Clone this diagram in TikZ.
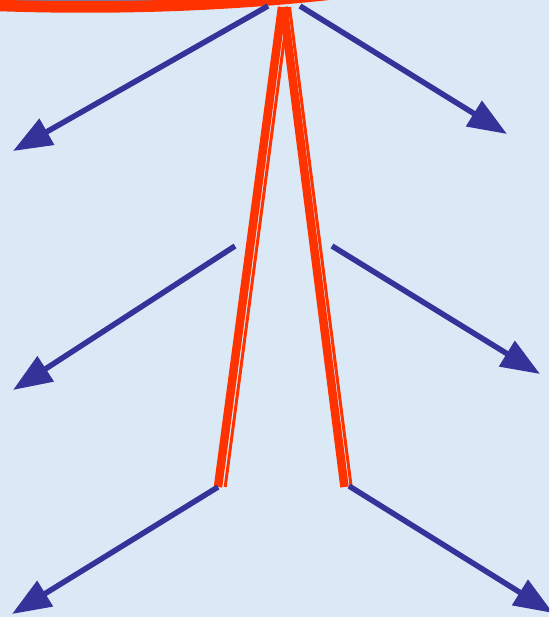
\documentclass[tikz,border=0pt]{standalone}
\usetikzlibrary{arrows.meta}
\definecolor{bg}{RGB}{219,233,247}
\definecolor{redline}{RGB}{255,51,0}
\definecolor{bluearrow}{RGB}{51,51,153}
\definecolor{ellfill}{RGB}{128,118,150}
\begin{document}
\begin{tikzpicture}[x=1pt,y=-1pt,
  arrowline/.style={draw=bluearrow, line width=5.5pt, -{Triangle[length=39pt,width=29pt]}},
  thickred/.style={draw=redline, line width=8.5pt},
  thinred/.style={draw=redline, line width=3pt}]
\useasboundingbox (0,0) rectangle (549,617);
\clip (0,0) rectangle (549,617);
\fill[bg] (0,0) rectangle (549,617);
% top ellipse edge
\draw[redline, line width=11.5pt, fill=ellfill] (85,-193) ellipse [x radius=693, y radius=200];
% red double lines
\coordinate (LT) at (282,7);   \coordinate (LB) at (218,487);
\coordinate (LTt) at (288.5,7); \coordinate (LBt) at (225.2,487);
\coordinate (RT) at (283.5,7); \coordinate (RB) at (344.5,487);
\coordinate (RTt) at (289.5,7); \coordinate (RBt) at (351.2,487);
\draw[thickred] (LT) -- (LB);
\draw[thinred] (LTt) -- (LBt);
\draw[thickred] (RT) -- (RB);
\draw[thinred] (RTt) -- (RBt);
% blue arrows
\coordinate (a1s) at (268,6);   \coordinate (a1e) at (13,151);
\coordinate (a2s) at (300,6);   \coordinate (a2e) at (507,134);
\coordinate (a3s) at (235,246); \coordinate (a3e) at (13,390);
\coordinate (a4s) at (332,246); \coordinate (a4e) at (540,374);
\coordinate (a5s) at (218,487); \coordinate (a5e) at (12,614);
\coordinate (a6s) at (349,486); \coordinate (a6e) at (553,613);
\draw[arrowline] (a1s) -- (a1e);
\draw[arrowline] (a2s) -- (a2e);
\draw[arrowline] (a3s) -- (a3e);
\draw[arrowline] (a4s) -- (a4e);
\draw[arrowline] (a5s) -- (a5e);
\draw[arrowline] (a6s) -- (a6e);
\end{tikzpicture}
\end{document}
